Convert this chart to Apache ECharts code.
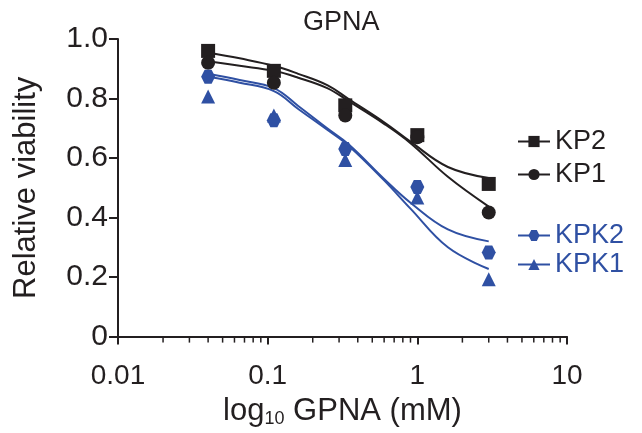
<!DOCTYPE html>
<html>
<head>
<meta charset="utf-8">
<script src="https://cdn.jsdelivr.net/npm/echarts@6/dist/echarts.min.js"></script>
<style>
  html, body { margin: 0; padding: 0; background: #fff; }
  #chart { width: 642px; height: 433px; }
</style>
</head>
<body>
<div id="chart"></div>
<script>
// measured points (mM, relative viability)
const doses = [0.04, 0.11, 0.33, 1, 3]
const kp2 = [0.96, 0.893, 0.777, 0.677, 0.513]
const kp1 = [0.92, 0.853, 0.743, 0.67, 0.417]
const kpk2 = [0.873, 0.727, 0.63, 0.503, 0.283]
const kpk1 = [0.807, 0.743, 0.593, 0.467, 0.193]

// fitted curves
const fitDoses = [0.04, 0.065, 0.11, 0.16, 0.25, 0.35, 0.6, 0.9, 1.6, 3]
const kp2Fit = [0.955, 0.935, 0.91, 0.883, 0.845, 0.797, 0.72, 0.655, 0.57, 0.533]
const kp1Fit = [0.925, 0.91, 0.893, 0.87, 0.835, 0.79, 0.715, 0.65, 0.537, 0.437]
const kpk2Fit = [0.883, 0.862, 0.835, 0.775, 0.70, 0.645, 0.53, 0.45, 0.36, 0.32]
const kpk1Fit = [0.873, 0.853, 0.825, 0.765, 0.695, 0.64, 0.525, 0.43, 0.30, 0.227]

const xTicks = [0.01, 0.1, 1, 10]
const minorTicks = [0.02, 0.03, 0.04, 0.05, 0.06, 0.07, 0.08, 0.09,
  0.2, 0.3, 0.4, 0.5, 0.6, 0.7, 0.8, 0.9, 2, 3, 4, 5, 6, 7, 8, 9]

const ink = "#231f20"
const blue = "#2f50a3"
const font = "Liberation Sans"
const hexagon = "path://M-1,0L-0.5,-0.866L0.5,-0.866L1,0L0.5,0.866L-0.5,0.866Z"

const zip = (xs, ys) => xs.map((x, i) => [x, ys[i]])

function group(name, color, symbol, size, pts, fit) {
  return [
    {
      name,
      type: "line",
      data: zip(fitDoses, fit),
      smooth: 0.4,
      symbol,
      symbolSize: size,
      showSymbol: false,
      lineStyle: { color, width: 2 },
      itemStyle: { color, opacity: 1 },
      z: 2
    },
    {
      name,
      type: "scatter",
      data: zip(doses, pts),
      symbol,
      symbolSize: size,
      itemStyle: { color, opacity: 1 },
      z: 3
    }
  ]
}

const chart = echarts.init(document.getElementById("chart"))

chart.setOption({
  animation: false,
  textStyle: { fontFamily: font, color: ink },
  title: {
    text: "GPNA",
    left: 298,
    top: 4,
    textStyle: { fontFamily: font, fontSize: 27, fontWeight: "normal", color: ink }
  },
  grid: { left: 118, right: 75, top: 39, bottom: 95 },
  legend: [
    {
      orient: "vertical",
      left: 512,
      top: 123,
      itemWidth: 32,
      itemHeight: 14,
      itemGap: 6,
      textStyle: { fontSize: 27, color: ink },
      data: ["KP2", "KP1"]
    },
    {
      orient: "vertical",
      left: 512,
      top: 217,
      itemWidth: 32,
      itemHeight: 14,
      itemGap: 2,
      textStyle: { fontSize: 27, color: blue },
      data: ["KPK2", "KPK1"]
    }
  ],
  xAxis: {
    type: "log",
    logBase: 10,
    min: 0.01,
    max: 10,
    name: "log{sub|10} GPNA (mM)",
    nameLocation: "middle",
    nameGap: 56,
    nameTextStyle: {
      fontSize: 31,
      color: ink,
      rich: { sub: { fontSize: 18, verticalAlign: "bottom", padding: [16, 0, 0, 0], color: ink } }
    },
    axisLine: { lineStyle: { color: ink, width: 2 } },
    axisTick: { length: 8, lineStyle: { color: ink, width: 2 } },
    axisLabel: {
      fontSize: 28,
      color: ink,
      margin: 26,
      formatter: (v) => (xTicks.some((t) => Math.abs(t - v) < 1e-9) ? String(v) : "")
    },
    splitLine: { show: false }
  },
  yAxis: {
    type: "value",
    min: 0,
    max: 1,
    interval: 0.2,
    name: "Relative viability",
    nameLocation: "middle",
    nameGap: 76,
    nameTextStyle: { fontSize: 31, color: ink },
    axisLine: { show: true, lineStyle: { color: ink, width: 2 } },
    axisTick: { show: true, length: 9, lineStyle: { color: ink, width: 2 } },
    axisLabel: {
      fontSize: 30,
      color: ink,
      margin: 10,
      formatter: (v) => (v === 0 ? "0" : v.toFixed(1))
    },
    splitLine: { show: false }
  },
  series: [
    ...group("KP2", ink, "rect", 14, kp2, kp2Fit),
    ...group("KP1", ink, "circle", 14, kp1, kp1Fit),
    ...group("KPK2", blue, hexagon, 14, kpk2, kpk2Fit),
    ...group("KPK1", blue, "triangle", 14, kpk1, kpk1Fit),
    {
      type: "custom",
      silent: true,
      clip: false,
      data: minorTicks.map((v) => [v, 0]),
      renderItem(params, api) {
        const p = api.coord([api.value(0), 0])
        return {
          type: "line",
          shape: { x1: p[0], y1: p[1], x2: p[0], y2: p[1] + 6 },
          style: { stroke: ink, lineWidth: 1.5 }
        }
      },
      z: 1
    }
  ]
})
</script>
</body>
</html>
